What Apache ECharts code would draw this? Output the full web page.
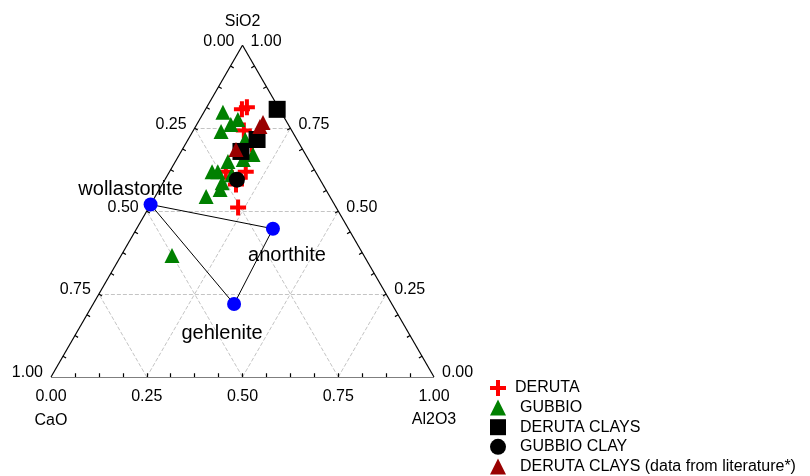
<!DOCTYPE html>
<html>
<head>
<meta charset="utf-8">
<script src="https://cdn.jsdelivr.net/npm/echarts@6/dist/echarts.min.js"></script>
<style>
  html, body { margin: 0; padding: 0; background: #ffffff; }
  #chart { width: 810px; height: 476px; }
</style>
</head>
<body>
<div id="chart"></div>
<script>
// Compositions as fractions: [SiO2, Al2O3, CaO]
const deruta = [
  [0.813, 0.105, 0.082], [0.807, 0.095, 0.098], [0.743, 0.132, 0.125],
  [0.680, 0.154, 0.166], [0.619, 0.199, 0.182], [0.511, 0.233, 0.256],
  [0.619, 0.147, 0.234], [0.580, 0.193, 0.227], [0.701, 0.174, 0.125]
];
const gubbio = [
  [0.798, 0.050, 0.152], [0.776, 0.100, 0.124], [0.740, 0.074, 0.186],
  [0.761, 0.089, 0.150], [0.716, 0.149, 0.135], [0.671, 0.192, 0.137],
  [0.619, 0.111, 0.270], [0.619, 0.126, 0.255], [0.586, 0.154, 0.260],
  [0.544, 0.133, 0.323], [0.565, 0.159, 0.276], [0.650, 0.137, 0.213],
  [0.610, 0.167, 0.223], [0.366, 0.133, 0.501], [0.656, 0.174, 0.170]
];
const derutaClays = [
  [0.807, 0.187, 0.006], [0.716, 0.180, 0.104], [0.680, 0.156, 0.164]
];
const gubbioClay = [
  [0.595, 0.188, 0.217]
];
const derutaClaysLit = [
  [0.767, 0.170, 0.063], [0.755, 0.168, 0.077], [0.686, 0.140, 0.174]
];

// Reference phases of the CaO-Al2O3-SiO2 system and the tie lines between them
const mineralNames = ['wollastonite', 'anorthite', 'gehlenite'];
const mineralComps = [
  [0.520, 0.000, 0.480],
  [0.447, 0.356, 0.197],
  [0.220, 0.368, 0.412]
];
const tieLines = [[0, 1], [0, 2], [2, 1]];

// Axis scale
const tickValues = [0, 0.25, 0.5, 0.75, 1];
const tickLabels = ['0.00', '0.25', '0.50', '0.75', '1.00'];
const gridValues = [0.25, 0.5, 0.75];
const tickDivisions = 16;
const componentNames = ['SiO2', 'CaO', 'Al2O3'];

const seriesNames = ['DERUTA', 'GUBBIO', 'DERUTA CLAYS', 'GUBBIO CLAY',
  'DERUTA CLAYS (data from literature*)'];

const FONT = 'Liberation Sans, Arial, Helvetica, sans-serif';
const H = Math.sqrt(3) / 2;

// Ternary composition -> plane: CaO corner (0,0), Al2O3 corner (1,0), SiO2 corner (0.5,H)
function tern(s, a, c) {
  const t = s + a + c;
  s /= t; a /= t; c /= t;
  return [a + s * 0.5, s * H];
}
const pt = (comp) => tern(comp[0], comp[1], comp[2]);

const TOP = tern(1, 0, 0), LEFT = tern(0, 0, 1), RIGHT = tern(0, 1, 0);

// Frame
const frameLines = [[LEFT, RIGHT], [RIGHT, TOP], [TOP, LEFT]].map(c => ({ coords: c }));

// Dashed grid lines parallel to each side
const gridLines = [];
gridValues.forEach(k => {
  gridLines.push({ coords: [tern(k, 0, 1 - k), tern(k, 1 - k, 0)] });   // SiO2 = k
  gridLines.push({ coords: [tern(0, k, 1 - k), tern(1 - k, k, 0)] });   // Al2O3 = k
  gridLines.push({ coords: [tern(0, 1 - k, k), tern(1 - k, 0, k)] });   // CaO = k
});

// Small inward ticks along every side
const TL = 0.0095;
const tickLines = [];
for (let i = 1; i < tickDivisions; i++) {
  const f = i / tickDivisions;
  const b = tern(0, f, 1 - f);
  tickLines.push({ coords: [b, [b[0], b[1] + TL]] });
  const l = tern(f, 0, 1 - f);
  tickLines.push({ coords: [l, [l[0] + TL * H, l[1] - TL * 0.5]] });
  const r = tern(f, 1 - f, 0);
  tickLines.push({ coords: [r, [r[0] - TL * H, r[1] - TL * 0.5]] });
}

// Tick labels: CaO on the left side, SiO2 on the right side, Al2O3 along the base
const tickLabelData = [];
tickValues.forEach((v, i) => {
  tickLabelData.push({
    name: tickLabels[i], value: tern(1 - v, 0, v),
    label: { align: 'right', verticalAlign: 'middle', offset: [-8, -4] }
  });
  tickLabelData.push({
    name: tickLabels[i], value: tern(v, 1 - v, 0),
    label: { align: 'left', verticalAlign: 'middle', offset: [8, -4] }
  });
  tickLabelData.push({
    name: tickLabels[i], value: tern(0, v, 1 - v),
    label: { align: 'center', verticalAlign: 'middle', offset: [0, 20] }
  });
});
const titleData = [
  { name: componentNames[0], value: TOP, label: { offset: [0, -24] } },
  { name: componentNames[1], value: LEFT, label: { offset: [0, 44] } },
  { name: componentNames[2], value: RIGHT, label: { offset: [0, 43] } }
];

const tieLineData = tieLines.map(([i, j]) => ({ coords: [pt(mineralComps[i]), pt(mineralComps[j])] }));
const mineralLabelOffsets = [[-20, -15], [14, 27], [-12, 29]];
const mineralData = mineralNames.map((n, i) => ({
  name: n, value: pt(mineralComps[i]),
  label: { offset: mineralLabelOffsets[i] }
}));

const PLUS = 'path://M6 0H10V6H16V10H10V16H6V10H0V6H6Z';

const plainLabel = {
  show: true, position: 'inside', formatter: '{b}', color: '#000000',
  fontFamily: FONT, textBorderWidth: 0, textShadowBlur: 0, opacity: 1
};

function markerSeries(name, rows, symbol, size, color) {
  return {
    name: name, type: 'scatter', data: rows.map(pt),
    symbol: symbol, symbolSize: size, symbolKeepAspect: true,
    itemStyle: { color: color, opacity: 1 }, z: 5, silent: true
  };
}

const chart = echarts.init(document.getElementById('chart'), null, { renderer: 'canvas' });
chart.setOption({
  animation: false,
  backgroundColor: '#ffffff',
  textStyle: { fontFamily: FONT },
  grid: { left: 51, top: 377 - 383 * H, width: 383, height: 383 * H, outerBoundsMode: 'none' },
  xAxis: { type: 'value', min: 0, max: 1, show: false },
  yAxis: { type: 'value', min: 0, max: H, show: false },
  legend: {
    orient: 'vertical', left: 490, top: 380, height: 96, padding: 0,
    itemWidth: 16, itemHeight: 16, itemGap: 3.6,
    textStyle: { fontFamily: FONT, fontSize: 16, color: '#000', lineHeight: 16 },
    data: [
      { name: seriesNames[0], textStyle: { padding: [0, 0, 0, 4] } },
      { name: seriesNames[1], textStyle: { padding: [0, 0, 0, 9] } },
      { name: seriesNames[2], textStyle: { padding: [0, 0, 0, 9] } },
      { name: seriesNames[3], textStyle: { padding: [0, 0, 0, 9] } },
      { name: seriesNames[4], textStyle: { padding: [0, 0, 0, 9] } }
    ],
    selectedMode: false
  },
  series: [
    {
      type: 'lines', coordinateSystem: 'cartesian2d', data: gridLines, silent: true, z: 1,
      lineStyle: { color: '#c4c4c4', width: 1, type: [4, 2], opacity: 1 }
    },
    {
      type: 'lines', coordinateSystem: 'cartesian2d', data: frameLines.concat(tickLines), silent: true, z: 2,
      lineStyle: { color: '#000', width: 1.2, opacity: 1 }
    },
    {
      type: 'lines', coordinateSystem: 'cartesian2d', data: tieLineData, silent: true, z: 3,
      lineStyle: { color: '#000', width: 1, opacity: 1 }
    },
    {
      type: 'scatter', data: tickLabelData, symbolSize: 0, silent: true, z: 2,
      itemStyle: { color: '#000', opacity: 1 },
      label: Object.assign({}, plainLabel, { fontSize: 16 })
    },
    {
      type: 'scatter', data: titleData, symbolSize: 0, silent: true, z: 2,
      itemStyle: { color: '#000', opacity: 1 },
      label: Object.assign({}, plainLabel, { fontSize: 16, align: 'center', verticalAlign: 'middle' })
    },
    {
      type: 'scatter', data: mineralData, symbol: 'circle', symbolSize: 14, silent: true, z: 4,
      itemStyle: { color: '#0000ff', opacity: 1 },
      label: Object.assign({}, plainLabel, { fontSize: 20, align: 'center', verticalAlign: 'middle' })
    },
    markerSeries(seriesNames[0], deruta, PLUS, 16, '#ff0000'),
    markerSeries(seriesNames[1], gubbio, 'triangle', 15, '#008000'),
    markerSeries(seriesNames[2], derutaClays, 'rect', 17, '#000000'),
    markerSeries(seriesNames[3], gubbioClay, 'circle', 16, '#000000'),
    markerSeries(seriesNames[4], derutaClaysLit, 'triangle', 15, '#990000')
  ]
});
</script>
</body>
</html>
